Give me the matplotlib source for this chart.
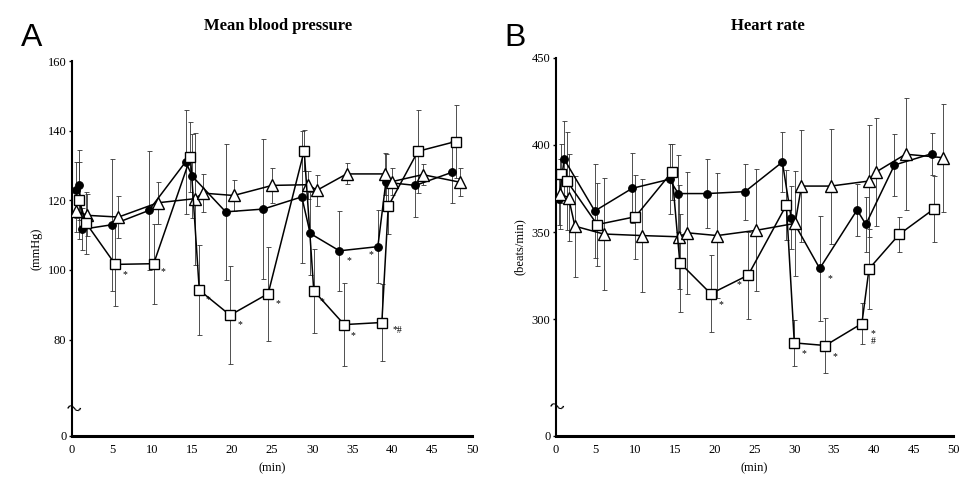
import matplotlib
matplotlib.use('Agg')
import matplotlib.pyplot as plt
import matplotlib.transforms as mtransforms

plt.rcParams['font.family'] = ['Liberation Serif', 'DejaVu Serif']

# ---- A: mean blood pressure (mmHg) ----
bp_sq_t = [0.9, 1.75, 5.4, 10.2, 14.8, 15.9, 19.75, 24.5, 29.0, 30.2, 34.0, 38.7, 39.5, 43.2, 47.9]
bp_sq_v = [120, 113.5, 101.6, 101.8, 132.4, 94.2, 87.0, 93.2, 134.3, 94.0, 84.3, 84.9, 118.3, 134.1, 136.9]
bp_sq_e = [11, 9, 12, 11.5, 10, 13, 14, 13.5, 6, 12, 12, 11, 8, 12, 10.5]

bp_ci_t = [0.5, 0.9, 1.3, 5.0, 9.6, 14.2, 15.0, 19.2, 23.9, 28.7, 29.75, 33.4, 38.2, 39.2, 42.9, 47.5]
bp_ci_v = [123, 124.5, 111.7, 113, 117.1, 131.1, 127, 116.7, 117.5, 121, 110.5, 105.5, 106.7, 125.2, 124.3, 128.1]
bp_ci_e = [8, 10, 6, 19, 17, 15, 12, 19.5, 20, 19, 12, 11.5, 10.5, 8, 9, 9]

bp_tr_t = [0.5, 1.9, 5.8, 10.7, 15.4, 16.3, 20.2, 25.0, 29.5, 30.6, 34.3, 39.1, 40.0, 43.8, 48.5]
bp_tr_v = [117, 115.7, 115.2, 119.3, 120.5, 122.1, 121.4, 124.3, 124.5, 122.9, 127.6, 127.6, 125.4, 127.4, 125.2]
bp_tr_e = [6, 6, 6, 6, 19, 5.5, 4.5, 5, 4, 4.5, 3, 6, 4, 3, 4]

# significance marks: (series, point index, text, x offset pt, y offset pt)
bp_marks = [('sq', 2, '*', 7, -7), ('sq', 3, '*', 7, -6), ('sq', 5, '*', 6, -7),
            ('sq', 6, '*', 7, -7), ('sq', 7, '*', 7, -7), ('sq', 9, '*', 6, -8),
            ('sq', 10, '*', 6, -8), ('sq', 11, '*#', 11, -6),
            ('ci', 11, '*', 7, -7), ('ci', 12, '*', -5, -6)]

# ---- B: heart rate (beats/min) ----
hr_sq_t = [0.63, 1.4, 5.2, 10.0, 14.6, 15.6, 19.5, 24.2, 29.0, 30.0, 33.9, 38.5, 39.4, 43.2, 47.6]
hr_sq_v = [383.6, 379.3, 354.3, 358.8, 384.5, 332.4, 314.6, 325.3, 365.5, 286.4, 284.9, 297.5, 328.9, 348.7, 363.4]
hr_sq_e = [17, 28, 24, 24, 16, 28, 22, 25, 20, 13, 16, 12, 23, 10, 19]

hr_ci_t = [0.38, 1.05, 4.9, 9.6, 14.3, 15.4, 19.0, 23.8, 28.5, 29.6, 33.2, 37.9, 39.0, 42.6, 47.3]
hr_ci_v = [368.8, 391.8, 362.1, 375.1, 380.3, 372.1, 372.1, 373.2, 390.2, 358.3, 329.1, 362.7, 354.4, 388.5, 395.0]
hr_ci_e = [15, 22, 27, 20, 20, 22, 20, 16, 17, 18, 30, 15, 16, 18, 12]

hr_tr_t = [0.5, 1.6, 2.4, 6.0, 10.8, 15.5, 16.5, 20.3, 25.2, 30.1, 30.9, 34.6, 39.4, 40.3, 44.0, 48.7]
hr_tr_v = [372, 369.8, 353.4, 348.9, 348.0, 347.3, 349.6, 348.0, 351.0, 355.0, 376.4, 376.4, 379.3, 384.5, 394.7, 392.7]
hr_tr_e = [20, 25, 29, 32, 32.5, 30, 35, 36, 35, 30, 32, 33, 32, 31, 32, 31]

hr_marks = [('sq', 6, '*', 7, -8), ('sq', 7, '*', -7, -7), ('sq', 9, '*', 7, -8),
            ('sq', 10, '*', 7, -8), ('sq', 11, '*\n#', 8, -10), ('ci', 10, '*', 7, -7)]


def draw_panel(ax, sq, ci, tr, marks, ybase, ytop, yticks, ylabel, brk):
    series = {'sq': sq, 'ci': ci, 'tr': tr}
    styles = {
        'sq': dict(marker='s', ms=7, mfc='white', mec='black', mew=1.0),
        'ci': dict(marker='o', ms=5.5, mfc='black', mec='black', mew=0.8),
        'tr': dict(marker='^', ms=8, mfc='white', mec='black', mew=1.0),
    }
    for key in ('ci', 'tr', 'sq'):
        t, v, e = series[key]
        ax.errorbar(t, v, yerr=e, fmt='none', ecolor='#333333', elinewidth=0.6,
                    capsize=1.8, capthick=0.6, zorder=2)
        ax.plot(t, v, color='black', lw=1.1, zorder=3, **styles[key])
    for key, i, txt, dx, dy in marks:
        t, v, _ = series[key]
        ax.annotate(txt, (t[i], v[i]), xytext=(dx, dy), textcoords='offset points',
                    ha='center', va='center', fontsize=7, linespacing=0.8, zorder=4)

    ax.set_xlim(0, 50)
    ax.set_ylim(ybase, ytop)
    ax.set_xticks(range(0, 51, 5))
    ax.set_yticks([ybase] + yticks)
    ax.set_yticklabels(['0'] + [str(y) for y in yticks])
    for s in ('top', 'right'):
        ax.spines[s].set_visible(False)
    ax.spines['left'].set_linewidth(1.5)
    ax.spines['bottom'].set_linewidth(2.2)
    ax.tick_params(axis='both', labelsize=9, length=2, width=1, pad=2)
    ax.tick_params(axis='x', length=0, pad=6)
    ax.set_xlabel('(min)', fontsize=9, labelpad=4)
    ax.set_ylabel(ylabel, fontsize=9, labelpad=4)
    # axis break mark
    trans = mtransforms.blended_transform_factory(ax.transAxes, ax.transData)
    ax.text(0.0, brk, '~', transform=trans, ha='center', va='center',
            fontsize=20, rotation=-15, zorder=5)


fig = plt.figure(figsize=(9.6, 4.78), dpi=100)
ax1 = fig.add_axes([0.075, 0.088, 0.417, 0.784])
ax2 = fig.add_axes([0.579, 0.088, 0.414, 0.791])

draw_panel(ax1, (bp_sq_t, bp_sq_v, bp_sq_e), (bp_ci_t, bp_ci_v, bp_ci_e),
           (bp_tr_t, bp_tr_v, bp_tr_e), bp_marks, 52.3, 160, [80, 100, 120, 140, 160],
           '(mmHg)', 59.5)
draw_panel(ax2, (hr_sq_t, hr_sq_v, hr_sq_e), (hr_ci_t, hr_ci_v, hr_ci_e),
           (hr_tr_t, hr_tr_v, hr_tr_e), hr_marks, 233, 450, [300, 350, 400, 450],
           '(beats/min)', 248)

fig.text(0.29, 0.945, 'Mean blood pressure', fontsize=12, fontweight='bold',
         ha='center', va='center')
fig.text(0.80, 0.945, 'Heart rate', fontsize=12, fontweight='bold',
         ha='center', va='center')
fig.text(0.022, 0.92, 'A', fontsize=23, family='Liberation Sans', ha='left', va='center')
fig.text(0.525, 0.92, 'B', fontsize=23, family='Liberation Sans', ha='left', va='center')

fig.savefig('out.png', dpi=100, facecolor='white')
